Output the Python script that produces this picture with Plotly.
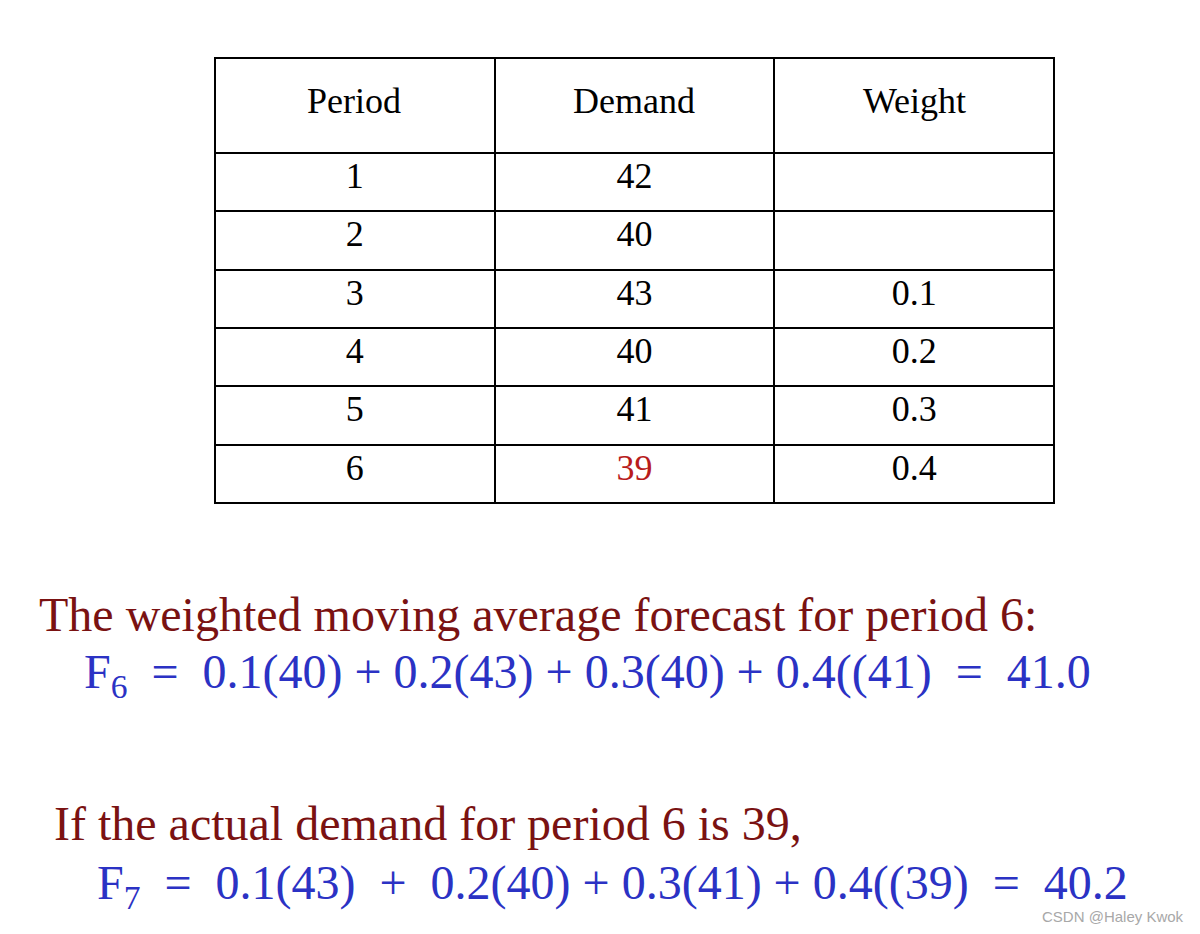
import plotly.graph_objects as go

headers = ["Period", "Demand", "Weight"]
periods = ["1", "2", "3", "4", "5", "6"]
demand = ["42", "40", "43", "40", "41", "39"]
weights = ["", "", "0.1", "0.2", "0.3", "0.4"]

line1 = "The weighted moving average forecast for period 6:"
line2 = "F<sub>6</sub>&nbsp; = &nbsp;0.1(40) + 0.2(43) + 0.3(40) + 0.4((41)&nbsp; = &nbsp;41.0"
line3 = "If the actual demand for period 6 is 39,"
line4 = "F<sub>7</sub>&nbsp; = &nbsp;0.1(43)&nbsp; + &nbsp;0.2(40) + 0.3(41) + 0.4((39)&nbsp; = &nbsp;40.2"
watermark = "CSDN @Haley Kwok"

W, H = 1200, 934
SERIF = "Liberation Serif"
RED = "#7a1212"
BLUE = "#2b32c4"

demand_colors = ["black"] * 5 + ["#b81c1c"]

fig = go.Figure(go.Table(
    domain=dict(x=[207 / W, 1046 / W], y=[1 - 497 / H, 1 - 50 / H]),
    columnwidth=[1, 1, 1],
    header=dict(
        values=["", "", ""],
        height=95,
        align="center",
        fill_color="white",
        line=dict(color="black", width=2),
        font=dict(family=SERIF, size=36, color="black"),
    ),
    cells=dict(
        values=[periods, demand, weights],
        height=58.3,
        align="center",
        fill_color="white",
        line=dict(color="black", width=2),
        font=dict(family=SERIF, size=36,
                  color=[["black"] * 6, demand_colors, ["black"] * 6]),
    ),
))

for i, h in enumerate(headers):
    fig.add_annotation(text=h, x=(346 + 280 * i) / W, y=1 - 93 / H,
                       xref="paper", yref="paper", xanchor="center", yanchor="middle",
                       showarrow=False, font=dict(family=SERIF, size=36, color="black"))

def add_text(text, x, y, color, size=48, family=SERIF):
    fig.add_annotation(text=text, x=x / W, y=1 - y / H, xref="paper", yref="paper",
                       xanchor="left", yanchor="middle", showarrow=False,
                       font=dict(family=family, size=size, color=color))

add_text(line1, 29, 606, RED)
add_text(line2, 74, 667, BLUE)
add_text(line3, 44, 815, RED)
add_text(line4, 87, 878, BLUE)
add_text(watermark, 1032, 908, "#a8a8a8", size=15, family="Liberation Sans")

fig.update_layout(
    width=W, height=H,
    margin=dict(l=0, r=0, t=0, b=0),
    paper_bgcolor="white", plot_bgcolor="white",
    showlegend=False,
)

fig.write_html("out.html")
